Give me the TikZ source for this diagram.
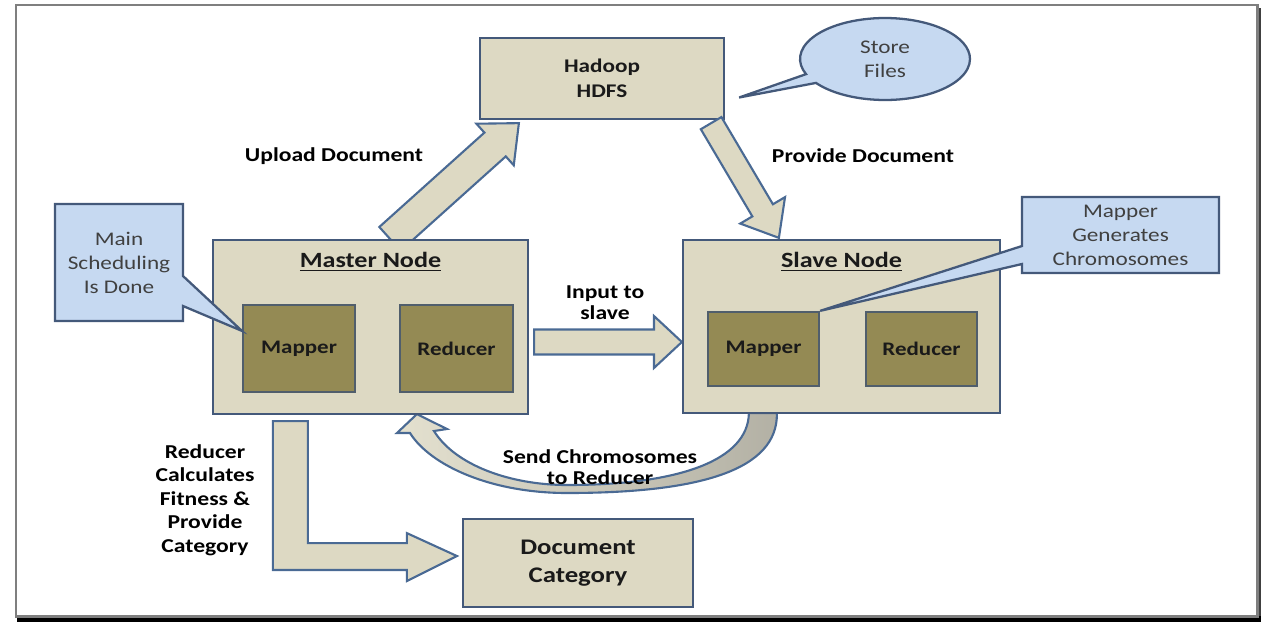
\documentclass[tikz,border=0pt]{standalone}
\usepackage{fontspec}
\setmainfont{Carlito}[FakeStretch=1.2]
\usetikzlibrary{calc,shapes.callouts}
\definecolor{boxfill}{HTML}{DDD9C3}
\definecolor{boxdraw}{HTML}{44597A}
\definecolor{innerfill}{HTML}{948A54}
\definecolor{innerdraw}{HTML}{505E6C}
\definecolor{callfill}{HTML}{C6D9F1}
\definecolor{calldraw}{HTML}{44597A}
\definecolor{calltext}{HTML}{404040}
\definecolor{arrowfill}{HTML}{DDD9C3}
\definecolor{arrowdraw}{HTML}{4A6A94}
\definecolor{txt}{HTML}{1A1A1A}
\definecolor{framegray}{HTML}{7F7F7F}
\newcommand{\blockarrow}[5]{%
  \coordinate (ba-h) at ($(#2)!#5!(#1)$);
  \draw[barrow] ($(#1)!#3!90:(#2)$) -- ($(ba-h)!#3!90:(#2)$) -- ($(ba-h)!#4!90:(#2)$) -- (#2) -- ($(ba-h)!#4!-90:(#2)$) -- ($(ba-h)!#3!-90:(#2)$) -- ($(#1)!#3!-90:(#2)$) -- cycle;
}
\tikzset{
  box/.style={draw=boxdraw, fill=boxfill, line width=1.3pt, inner sep=0pt, text=txt, align=center},
  innerbox/.style={draw=innerdraw, fill=innerfill, line width=1.3pt, inner sep=0pt, text=txt, font=\fontsize{10.9}{13}\selectfont\bfseries},
  titletext/.style={inner sep=0pt, text=txt, font=\fontsize{12.4}{14}\selectfont\bfseries},
  call/.style={draw=calldraw, fill=callfill, line width=1.3pt, inner sep=0pt, align=center, text=calltext, font=\fontsize{11}{13.7}\selectfont},
  lbl/.style={inner sep=0pt, align=center, text=black, font=\fontsize{11.2}{13.4}\selectfont\bfseries},
  barrow/.style={draw=arrowdraw, fill=arrowfill, line width=1.2pt, line join=miter},
  curvearrow/.style={draw=arrowdraw, line width=1.2pt, line join=miter, left color=arrowfill!80!white, right color=arrowfill!55!gray},
}
\begin{document}
\begin{tikzpicture}[x=0.02cm, y=-0.02cm]
\useasboundingbox (0,0) rectangle (1270,629);
% frame
\fill[black!75] (1256,8) rectangle (1261,622);
\fill[black] (17,616) rectangle (1261,622);
\draw[framegray, line width=1.7pt] (16,5) rectangle (1257,616);

% main boxes
\node[box, minimum width=4.88cm, minimum height=1.62cm, font=\fontsize{11}{14}\selectfont\bfseries] (hdfs) at (602,78.5) {Hadoop\\HDFS};
\node[box, minimum width=6.30cm, minimum height=3.48cm] (master) at (370.5,327) {};
\node[box, minimum width=6.34cm, minimum height=3.46cm] (slave) at (841.5,326.5) {};
\node[box, minimum width=4.60cm, minimum height=1.76cm, font=\fontsize{12.7}{16}\selectfont\bfseries] (doc) at (578,563) {Document\\Category};

% arrow end points
\coordinate (upA) at ($(master.north)+(19.5,0)$);
\coordinate (upB) at ($(hdfs.south west)+(40,3)$);
\coordinate (pvA) at ($(hdfs.south east)+(-14,3)$);
\coordinate (pvB) at ($(slave.north west)+(97,-1)$);
\coordinate (inA) at ($(master.east)+(5,15)$);
\coordinate (inB) at ($(slave.west)+(0,15.5)$);
\coordinate (lA) at ($(master.south west)+(61,6)$);
\coordinate (lTip) at ($(doc.west)+(-5,-7)$);
\coordinate (ctip) at ($(master.south west)+(205,-1)$);
\coordinate (cso) at ($(slave.south west)+(95,-1)$);
\coordinate (csi) at ($(slave.south west)+(67,-1)$);

% block arrows
\blockarrow{upA}{upB}{9.1pt}{15.9pt}{18.2pt}
\blockarrow{pvA}{pvB}{6.8pt}{14.8pt}{18.2pt}
\blockarrow{inA}{inB}{7.1pt}{14.8pt}{15.9pt}
\draw[barrow] (lA) -- ++(35,0) -- ++(0,122) -- ++(99,0) -- ++(0,-10) -- (lTip) -- ++(-50,25) -- ++(0,-11) -- ++(-134,0) -- cycle;
\draw[curvearrow] (cso) .. controls (778,470) and (700,493) .. (567,493) .. controls (490,493) and (430,465) .. (410,433) -- (397,433) -- (ctip) -- (447,429) -- (434,431) .. controls (455,465) and (510,485) .. (567,485) .. controls (680,485) and (748,460) .. (csi) -- cycle;

% redraw boxes over arrow ends
\node[box, minimum width=6.30cm, minimum height=3.48cm] at (master) {};
\node[box, minimum width=6.34cm, minimum height=3.46cm] at (slave) {};

% titles and inner boxes
\node[titletext] (mtitle) at ($(master.north)+(0,23)$) {\underline{Master Node}};
\node[titletext] (stitle) at ($(slave.north)+(0,23)$) {\underline{Slave Node}};
\node[innerbox, minimum width=2.24cm, minimum height=1.74cm] (mmap) at (299,348.5) {Mapper};
\node[innerbox, minimum width=2.26cm, minimum height=1.74cm] (mred) at (456.5,348.5) {Reducer};
\node[innerbox, minimum width=2.22cm, minimum height=1.48cm] (smap) at (763.5,349) {Mapper};
\node[innerbox, minimum width=2.22cm, minimum height=1.48cm] (sred) at (921.5,349) {Reducer};

% callouts
\coordinate (mstip) at ($(mmap.north west)+(0,27)$);
\node[call, rectangle callout, minimum width=2.56cm, minimum height=2.34cm, callout absolute pointer=(mstip), callout pointer width=0.6cm] (msched) at (119,262.5) {Main\\Scheduling\\Is Done};
\node[call, rectangle callout, minimum width=3.94cm, minimum height=1.52cm, callout absolute pointer=(smap.north east), callout pointer width=0.36cm] (mgen) at (1120.5,235) {Mapper\\Generates\\Chromosomes};
\coordinate (sftip) at ($(hdfs.east)+(14,19)$);
\node[call, ellipse callout, minimum width=3.40cm, minimum height=1.64cm, callout absolute pointer=(sftip), callout pointer arc=14] (store) at (885,59) {Store\\Files};

% labels
\node[lbl] (lup) at (334,156) {Upload Document};
\node[lbl] (lpv) at (863,156) {Provide Document};
\node[lbl, font=\fontsize{11.2}{12}\selectfont\bfseries] (lin) at (605,302.5) {Input to\\slave};
\node[lbl, font=\fontsize{11.2}{12}\selectfont\bfseries] (lsend) at (600,467) {Send Chromosomes\\to Reducer};
\node[lbl] (lred) at (205,500) {Reducer\\Calculates\\Fitness \&\\Provide\\Category};
\end{tikzpicture}
\end{document}
